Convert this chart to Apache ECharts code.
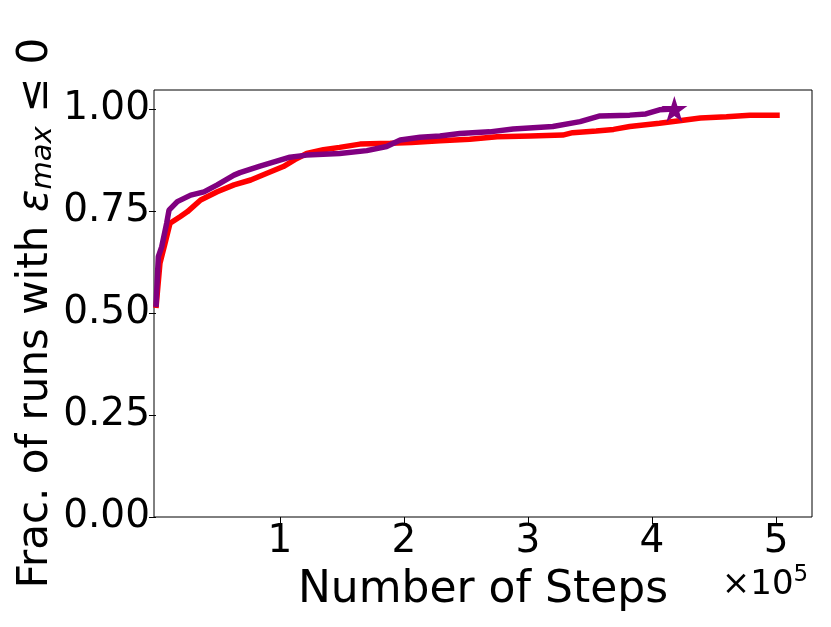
<!DOCTYPE html>
<html>
<head>
<meta charset="utf-8">
<script src="https://cdn.jsdelivr.net/npm/echarts@6/dist/echarts.min.js"></script>
<style>html,body{margin:0;padding:0;background:#fff}#c{width:831px;height:627px}</style>
</head>
<body>
<div id="c"></div>
<script>
// Red series (steps, fraction)
const redX = [0, 3200, 7300, 11300, 19400, 25200, 36000, 49400, 62900, 76400, 89000, 102700, 112000, 121500, 135000, 148000, 164500, 189000, 206000, 229000, 253000, 275000, 302000, 328000, 336000, 355000, 369000, 382000, 406000, 422000, 439000, 460000, 479000, 503000];
const redY = [0.512, 0.622, 0.671, 0.72, 0.736, 0.748, 0.777, 0.797, 0.814, 0.826, 0.842, 0.859, 0.876, 0.891, 0.900, 0.906, 0.914, 0.916, 0.918, 0.922, 0.926, 0.932, 0.934, 0.936, 0.942, 0.946, 0.950, 0.957, 0.965, 0.971, 0.978, 0.981, 0.985, 0.985];
// Purple series
const purpleX = [0, 1900, 4600, 8600, 10500, 17200, 28000, 38700, 49400, 62900, 67700, 83900, 108000, 121500, 148000, 170000, 186000, 197000, 213000, 229000, 245000, 269000, 288000, 320000, 342000, 358000, 382000, 395000, 406000, 418000];
const purpleY = [0.515, 0.638, 0.662, 0.72, 0.752, 0.773, 0.789, 0.797, 0.814, 0.838, 0.844, 0.860, 0.882, 0.887, 0.891, 0.898, 0.908, 0.924, 0.931, 0.934, 0.940, 0.944, 0.951, 0.957, 0.969, 0.983, 0.985, 0.988, 0.998, 1.0];
// Star marker at purple end
const starPoint = [418000, 1.0];
const xTicks = [100000, 200000, 300000, 400000, 500000];
const yTicks = [0, 0.25, 0.5, 0.75, 1.0];

const zip = (a, b) => a.map((v, i) => [v, b[i]]);
const starPath = 'path://M50,0 L61.8,36.2 L100,36.2 L69.1,58.6 L80.9,95.1 L50,72.7 L19.1,95.1 L30.9,58.6 L0,36.2 L38.2,36.2 Z';
const FONT = 'DejaVu Sans';

const chart = echarts.init(document.getElementById('c'), null, {renderer: 'canvas'});
chart.setOption({
  animation: false,
  backgroundColor: '#fff',
  grid: {left: 154, right: 19, top: 90, bottom: 110, show: true, borderColor: '#000', borderWidth: 1, backgroundColor: 'transparent'},
  xAxis: {
    type: 'value', min: -1600, max: 529000,
    axisLine: {show: false},
    splitLine: {show: false},
    axisTick: {show: true, length: 7, lineStyle: {color: '#000', width: 1}, customValues: xTicks},
    axisLabel: {customValues: xTicks, formatter: v => String(Math.round(v / 100000)), fontSize: 39, fontFamily: FONT, color: '#000', margin: 5}
  },
  yAxis: {
    type: 'value', min: 0, max: 1.0466,
    axisLine: {show: false},
    splitLine: {show: false},
    axisTick: {show: true, length: 7, lineStyle: {color: '#000', width: 1}, customValues: yTicks},
    axisLabel: {customValues: yTicks, formatter: v => v.toFixed(2), fontSize: 39, fontFamily: FONT, color: '#000', margin: 4}
  },
  series: [
    {type: 'line', data: zip(redX, redY), showSymbol: false, lineStyle: {color: '#ff0000', width: 5.5}, itemStyle: {color: '#ff0000'}, z: 2},
    {type: 'line', data: zip(purpleX, purpleY), showSymbol: false, lineStyle: {color: '#800080', width: 5.5}, itemStyle: {color: '#800080'}, z: 3},
    {type: 'scatter', data: [starPoint], symbol: starPath, symbolSize: 26, itemStyle: {color: '#800080', opacity: 1}, z: 4}
  ],
  graphic: [
    {type: 'text', style: {text: 'Number of Steps', x: 483, y: 591, align: 'center', verticalAlign: 'middle', font: '44px "DejaVu Sans"', fill: '#000'}},
    {type: 'text', style: {x: 765, y: 585, align: 'center', verticalAlign: 'middle', text: '{a|×10}{b|5}', rich: {a: {fontSize: 34, fontFamily: FONT, color: '#000'}, b: {fontSize: 23, fontFamily: FONT, color: '#000', verticalAlign: 'bottom', padding: [0, 0, 19, 0]}}}},
    {type: 'text', x: 36, y: 313, rotation: Math.PI / 2, style: {x: 0, y: 0, align: 'center', verticalAlign: 'middle', text: '{a|Frac. of runs with }{e|ε}{s|max}{a| ≤ 0}', rich: {a: {fontSize: 42, fontFamily: FONT, color: '#000'}, e: {fontSize: 42, fontFamily: FONT, fontStyle: 'italic', color: '#000'}, s: {fontSize: 29, fontFamily: FONT, fontStyle: 'italic', color: '#000', padding: [15, 0, 0, 0]}}}}
  ]
});
</script>
</body>
</html>
